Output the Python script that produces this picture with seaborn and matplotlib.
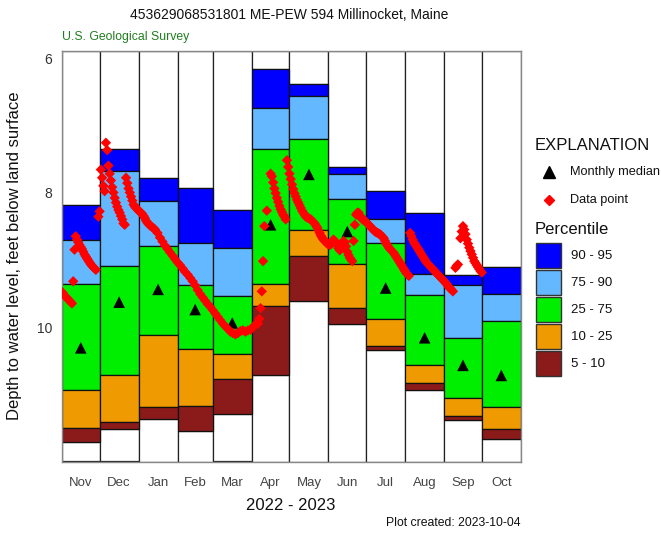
import numpy as np
import pandas as pd
import matplotlib
matplotlib.use("Agg")
import matplotlib.pyplot as plt
from matplotlib.patches import Rectangle
from matplotlib.lines import Line2D
import seaborn as sns

# monthly percentile statistics (feet below land surface)
months = ['Nov', 'Dec', 'Jan', 'Feb', 'Mar', 'Apr', 'May', 'Jun', 'Jul', 'Aug', 'Sep', 'Oct']
p95 = [8.19, 7.35, 7.78, 7.93, 8.26, 6.16, 6.39, 7.62, 7.98, 8.30, 9.23, 9.11]
p90 = [8.70, 7.68, 8.13, 8.75, 8.83, 6.75, 6.56, 7.72, 8.40, 9.21, 9.38, 9.51]
p75 = [9.36, 9.10, 8.80, 9.38, 9.54, 7.35, 7.20, 8.10, 8.75, 9.53, 10.16, 9.91]
p25 = [10.93, 10.71, 10.12, 10.32, 10.40, 9.36, 8.56, 9.07, 9.88, 10.56, 11.05, 11.19]
p10 = [11.50, 11.42, 11.19, 11.18, 10.77, 9.69, 8.95, 9.71, 10.28, 10.83, 11.33, 11.51]
p5 = [11.71, 11.51, 11.37, 11.54, 11.30, 10.71, 9.62, 9.95, 10.34, 10.93, 11.38, 11.66]
monthly_median = [10.31, 9.63, 9.44, 9.74, 9.94, 8.48, 7.73, 8.58, 9.42, 10.16, 10.57, 10.72]

# observations: (days since 2022-11-01, depth to water)
obs = [
    (0, 9.48), (1, 9.50), (2, 9.53), (3, 9.55), (4, 9.57), (5, 9.59), (6, 9.61), (7, 9.63),
    (8, 9.65), (9, 9.32), (10, 8.85), (11, 8.65), (12, 8.70), (13, 8.74), (14, 8.78),
    (15, 8.81), (16, 8.84), (17, 8.88), (18, 8.92), (19, 8.95), (20, 8.98), (21, 9.01),
    (22, 9.04), (23, 9.07), (24, 9.09), (25, 9.11), (26, 9.13), (27, 9.15),
    (29, 8.36), (30, 8.28), (31, 7.66), (32, 7.78), (33, 7.90), (34, 7.98),
    (35, 7.26), (36, 7.37), (37, 7.60), (38, 7.72), (39, 7.82), (40, 7.92), (41, 8.00),
    (42, 8.08), (43, 8.15), (44, 8.21), (45, 8.26), (46, 8.30), (47, 8.35), (48, 8.40),
    (49, 8.46), (50, 8.48),
    (51, 7.78), (52, 7.86), (53, 7.94), (54, 8.00), (55, 8.06), (56, 8.12), (57, 8.18),
    (58, 8.21), (59, 8.23), (60, 8.25), (61, 8.27), (62, 8.29), (63, 8.30), (64, 8.32),
    (65, 8.35), (66, 8.38), (67, 8.42), (68, 8.45), (69, 8.47), (70, 8.49), (71, 8.50),
    (72, 8.52), (73, 8.53), (74, 8.55), (76, 8.60), (78, 8.67), (80, 8.73), (82, 8.79),
    (84, 8.84), (86, 8.89), (88, 8.94), (90, 8.99), (92, 9.04), (94, 9.08), (96, 9.13),
    (98, 9.18), (100, 9.22), (102, 9.27), (104, 9.32), (106, 9.38), (108, 9.45),
    (110, 9.51), (112, 9.56), (114, 9.61), (116, 9.66), (118, 9.70), (120, 9.75),
    (122, 9.80), (124, 9.85), (126, 9.90), (128, 9.95), (130, 9.99), (132, 10.03),
    (134, 10.07), (136, 10.09), (138, 10.11), (140, 10.09), (142, 10.06), (144, 10.05),
    (146, 10.07), (148, 10.05), (150, 10.04), (152, 10.00), (154, 9.96), (156, 9.95),
    (157, 9.88), (158, 9.72), (159, 9.47), (160, 9.02), (161, 8.50), (163, 8.27),
    (166, 7.72), (167, 7.76), (168, 7.85), (169, 7.94), (170, 8.01), (171, 8.08),
    (172, 8.14), (173, 8.20), (174, 8.25), (175, 8.29), (176, 8.33), (177, 8.36),
    (178, 8.40),
    (179, 7.52), (180, 7.62), (181, 7.72), (182, 7.80), (183, 7.88), (184, 7.95),
    (185, 8.01), (186, 8.06), (187, 8.11), (188, 8.15), (189, 8.19), (190, 8.23),
    (191, 8.27), (192, 8.30), (193, 8.33), (194, 8.36), (195, 8.37), (196, 8.38),
    (197, 8.39), (198, 8.40), (199, 8.42), (200, 8.44), (201, 8.46), (202, 8.49),
    (203, 8.52), (204, 8.56), (205, 8.60), (206, 8.64), (207, 8.67), (208, 8.70),
    (209, 8.72), (210, 8.74), (211, 8.76), (212, 8.77), (213, 8.78), (214, 8.77),
    (215, 8.74), (216, 8.70), (217, 8.72), (218, 8.75), (219, 8.79), (220, 8.83),
    (221, 8.86), (222, 8.82), (223, 8.76), (224, 8.72), (225, 8.74), (226, 8.80),
    (227, 8.88), (228, 8.93), (229, 8.97), (230, 9.00), (231, 9.02), (232, 8.72),
    (233, 8.48), (234, 8.33),
    (235, 8.30), (236, 8.30), (237, 8.34), (238, 8.37), (239, 8.40), (240, 8.41),
    (241, 8.42), (242, 8.44), (243, 8.46), (244, 8.48), (245, 8.50), (246, 8.52),
    (247, 8.54), (248, 8.56), (249, 8.58), (250, 8.59), (251, 8.60), (252, 8.61),
    (253, 8.62), (254, 8.64), (255, 8.66), (256, 8.68), (257, 8.72), (258, 8.76),
    (259, 8.79), (260, 8.82), (261, 8.84), (262, 8.86), (263, 8.88), (264, 8.90),
    (265, 8.93), (266, 8.96), (267, 8.99), (268, 9.02), (269, 9.05), (270, 9.08),
    (271, 9.11), (272, 9.14), (273, 9.17), (274, 9.20), (275, 9.22), (276, 9.24),
    (277, 8.60), (278, 8.65), (279, 8.70), (280, 8.74), (281, 8.77), (282, 8.80),
    (283, 8.83), (284, 8.86), (285, 8.89), (286, 8.92), (287, 8.95), (288, 8.98),
    (289, 9.01), (290, 9.04), (291, 9.06), (292, 9.08), (293, 9.10), (294, 9.12),
    (295, 9.14), (296, 9.16), (297, 9.18), (298, 9.20), (299, 9.22), (300, 9.24),
    (301, 9.26), (302, 9.28), (303, 9.30), (304, 9.32), (305, 9.34), (306, 9.36),
    (307, 9.39), (308, 9.41), (309, 9.43), (310, 9.45), (311, 9.47),
    (313, 9.12), (314, 9.09), (315, 9.07),
    (317, 8.68), (318, 8.58), (319, 8.50), (320, 8.55), (321, 8.62), (322, 8.70),
    (323, 8.76), (324, 8.82), (325, 8.87), (326, 8.92), (327, 8.97), (328, 9.02),
    (329, 9.05), (330, 9.08), (331, 9.11), (332, 9.14), (333, 9.17), (334, 9.19),
]
obs_day = [d for d, v in obs]
obs_depth = [v for d, v in obs]

band_labels = ['90 - 95', '75 - 90', '25 - 75', '10 - 25', '5 - 10']
band_colors = ['#0000FF', '#63B8FF', '#00EE00', '#EE9A00', '#8B1A1A']

sns.set_style('white')
plt.rcParams['font.family'] = ['Liberation Sans', 'DejaVu Sans']

# month positions in days
start = pd.Timestamp('2022-11-01')
edges = pd.date_range(start, periods=13, freq='MS')
month_start = np.array((edges[:-1] - start).days)
month_len = np.array((edges[1:] - edges[:-1]).days)
month_mid = month_start + month_len / 2

y_top, y_bot = 5.9, 12.0

fig = plt.figure(figsize=(6.61, 5.34), dpi=100)
W, H = 661, 534
ax = fig.add_axes([61.9 / W, 1 - 461.5 / H, (520.8 - 61.9) / W, (461.5 - 51.3) / H])

# percentile boxes per month
levels = [p95, p90, p75, p25, p10, p5]
for i in range(12):
    ax.bar(month_start[i], p95[i] - y_top, bottom=y_top, width=month_len[i], align='edge',
           color='white', edgecolor='#222222', linewidth=0.9, zorder=1)
    ax.bar(month_start[i], y_bot - p5[i], bottom=p5[i], width=month_len[i], align='edge',
           color='white', edgecolor='#222222', linewidth=0.9, zorder=1)
    for k in range(5):
        lo, hi = levels[k][i], levels[k + 1][i]
        ax.bar(month_start[i], hi - lo, bottom=lo, width=month_len[i], align='edge',
               color=band_colors[k], edgecolor='#111111', linewidth=0.9, zorder=2)

sns.scatterplot(x=month_mid, y=monthly_median, marker='^', color='black', s=70,
                edgecolor='none', ax=ax, zorder=3)
sns.scatterplot(x=obs_day, y=obs_depth, marker='D', color='red', s=28,
                edgecolor='none', ax=ax, zorder=4)

ax.set_xlim(0, 365)
ax.set_ylim(y_bot, y_top)
ax.set_yticks([6, 8, 10])
ax.set_yticklabels(['6', '8', '10'])
ax.set_xticks(month_mid)
ax.set_xticklabels(months)
ax.tick_params(axis='y', direction='in', length=4, width=0.8, color='#555555',
               labelsize=10, labelcolor='#333333', pad=7, left=True)
ax.tick_params(axis='x', length=0, labelsize=9.5, labelcolor='#444444', pad=11)
ax.set_xlabel('')
ax.set_ylabel('')
for sp in ax.spines.values():
    sp.set_color('#888888')
    sp.set_linewidth(1.0)

# text and explanation drawn in pixel coordinates over the whole figure
ov = fig.add_axes([0, 0, 1, 1], facecolor='none')
ov.set_xlim(0, W)
ov.set_ylim(H, 0)
ov.axis('off')

ov.text(289, 15, '453629068531801 ME-PEW 594 Millinocket, Maine', ha='center', va='center',
        fontsize=10, color='#111111')
ov.text(62, 37, 'U.S. Geological Survey', ha='left', va='center', fontsize=8.8, color='#1f7f1f')
ov.text(15, 256, 'Depth to water level, feet below land surface', rotation=90,
        ha='center', va='center', fontsize=12, color='#111111')
ov.text(291, 505, '2022 - 2023', ha='center', va='center', fontsize=12, color='#111111')
ov.text(520, 523, 'Plot created: 2023-10-04', ha='right', va='center', fontsize=8.8,
        color='#111111')

ov.text(535, 145, 'EXPLANATION', ha='left', va='center', fontsize=12, color='#111111')
ov.add_line(Line2D([549], [172], marker='^', color='black', markersize=8, linestyle='none'))
ov.text(570, 172, 'Monthly median', ha='left', va='center', fontsize=9.2, color='#111111')
ov.add_line(Line2D([549], [200], marker='D', color='red', markersize=5, linestyle='none'))
ov.text(570, 200, 'Data point', ha='left', va='center', fontsize=9.2, color='#111111')
ov.text(535, 229, 'Percentile', ha='left', va='center', fontsize=12, color='#111111')
for k, (lab, col) in enumerate(zip(band_labels, band_colors)):
    y0 = 243 + k * 27
    ov.add_patch(Rectangle((536, y0), 25, 25, facecolor=col, edgecolor='#333333', linewidth=1))
    ov.text(571, y0 + 13, lab, ha='left', va='center', fontsize=9.5, color='#111111')

fig.savefig('out.png', dpi=100)
